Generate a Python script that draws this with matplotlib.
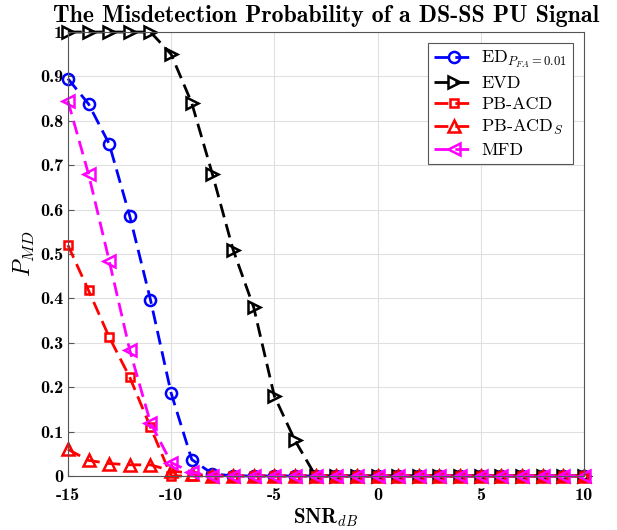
import numpy as np
import matplotlib.pyplot as plt

plt.rcParams['mathtext.fontset'] = 'cm'
plt.rcParams['axes.unicode_minus'] = False

snr = np.arange(-15, 11)
p_ed = [0.895, 0.838, 0.748, 0.585, 0.397, 0.187, 0.037, 0.005] + [0.0] * 18
p_evd = [1, 1, 1, 1, 1, 0.95, 0.84, 0.68, 0.51, 0.38, 0.18, 0.08] + [0.0] * 14
p_acd = [0.52, 0.418, 0.313, 0.222, 0.11, 0.0] + [0.0] * 20
p_acds = [0.06, 0.035, 0.028, 0.025, 0.025, 0.012, 0.005] + [0.0] * 19
p_mfd = [0.845, 0.68, 0.485, 0.283, 0.12, 0.03, 0.008] + [0.0] * 19

fig = plt.figure(figsize=(6.17, 5.30), dpi=100)
ax = fig.add_axes([0.110, 0.102, 0.8365, 0.8376])

kw = dict(linestyle='--', dashes=(5, 2.5), linewidth=2, markersize=8,
          markerfacecolor='none', markeredgewidth=1.8, clip_on=False)
ax.plot(snr, p_ed, color='blue', marker='o', label=r'ED$_{P_{FA}=0.01}$', **kw)
ax.plot(snr, p_evd, color='black', marker='>', label='EVD', **kw)
ax.plot(snr, p_acd, color='red', marker='s', label='PB-ACD',
        **{**kw, 'markersize': 6})
ax.plot(snr, p_acds, color='red', marker='^', label=r'PB-ACD$_S$', **kw)
ax.plot(snr, p_mfd, color='magenta', marker='<', label='MFD', **kw)

ax.set_xlim(-15, 10)
ax.set_ylim(0, 1)
ax.set_xticks(np.arange(-15, 11, 5))
ax.set_yticks(np.arange(0, 1.01, 0.1))
ax.set_yticklabels(['0'] + [f'{v:.1f}' for v in np.arange(0.1, 0.95, 0.1)] + ['1'])
for lab in ax.get_xticklabels() + ax.get_yticklabels():
    lab.set_fontfamily('cmb10')
    lab.set_fontsize(13)
ax.tick_params(direction='in', length=4, color='#555555')
ax.tick_params(axis='x', pad=9)
ax.grid(True, color='#e0e0e0', linewidth=0.8)
ax.set_axisbelow(True)
for s in ax.spines.values():
    s.set_color('#555555')

ax.set_title('The Misdetection Probability of a DS-SS PU Signal',
             fontfamily='cmb10', fontsize=17.2, pad=7)
ax.set_xlabel(r'SNR$_{dB}$', fontfamily='cmb10', fontsize=15, labelpad=2)
ax.set_ylabel(r'$P_{MD}$', fontsize=17, labelpad=2)

leg = ax.legend(loc='upper right', prop={'family': 'cmr10', 'size': 13},
                fancybox=False, edgecolor='#555555', framealpha=1,
                handlelength=2.2, borderpad=0.35, labelspacing=0.3,
                handletextpad=0.4, borderaxespad=0.6)
leg.get_frame().set_linewidth(0.8)

fig.savefig('out.png', dpi=100)
